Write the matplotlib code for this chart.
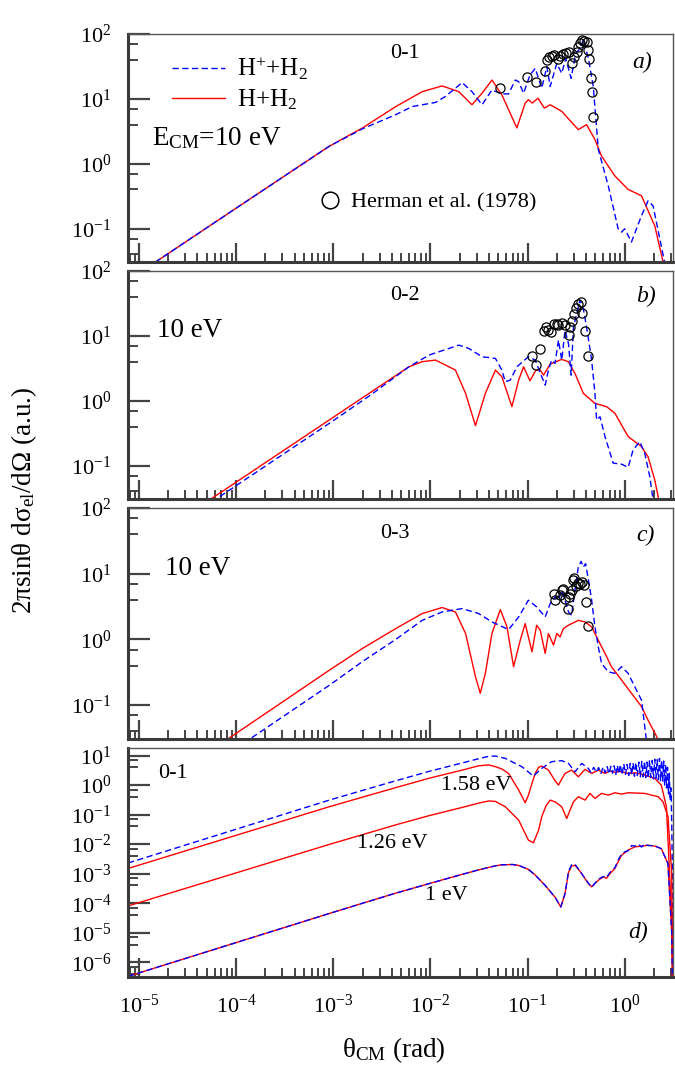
import matplotlib
matplotlib.use("Agg")
import matplotlib.pyplot as plt
from matplotlib.ticker import LogLocator, LogFormatterMathtext, NullFormatter
from matplotlib.lines import Line2D

plt.rcParams['font.family'] = ['Liberation Serif', 'DejaVu Serif']
plt.rcParams['mathtext.fontset'] = 'custom'
plt.rcParams['mathtext.rm'] = 'Liberation Serif'
plt.rcParams['mathtext.it'] = 'Liberation Serif:italic'
plt.rcParams['mathtext.bf'] = 'Liberation Serif:bold'
plt.rcParams['axes.unicode_minus'] = False

# ---------------- data ----------------
# panel a (0-1, 10 eV)
th_a_red = [1e-5, 1e-4, 9.1e-4, 2.0e-3, 4.4e-3, 8.24e-3, 0.0132, 0.0196, 0.0268, 0.034, 0.043, 0.0544,
            0.0776, 0.0946, 0.102, 0.112, 0.128, 0.149, 0.171, 0.225, 0.333, 0.405, 0.494, 0.578, 0.793,
            1.086, 1.49, 2.04, 2.48, 2.9]
sg_a_red = [0.0206, 0.206, 1.86, 3.56, 7.6, 12.9, 15.8, 12.9, 8.1, 12.2, 19.5, 11.5,
            3.56, 8.6, 9.7, 8.6, 10.2, 7.2, 8.1, 6.4, 3.35, 4.0, 2.36, 1.31, 0.646,
            0.40, 0.32, 0.11, 0.031, 0.005]
th_a_blue = [1e-5, 1e-4, 9.1e-4, 2.0e-3, 4.4e-3, 6.5e-3, 0.0113, 0.0143, 0.0212, 0.0268, 0.034, 0.043,
             0.0544, 0.0638, 0.0748, 0.081, 0.091, 0.106, 0.120, 0.140, 0.158, 0.171, 0.200, 0.225, 0.247,
             0.281, 0.313, 0.347, 0.375, 0.423, 0.475, 0.535, 0.678, 0.857, 0.929, 1.0, 1.175, 1.49,
             1.74, 1.96, 2.30, 2.58, 2.9]
sg_a_blue = [0.0206, 0.206, 1.86, 3.45, 5.7, 7.6, 8.8, 10.9, 17.8, 12.9, 8.1, 13.7,
             11.9, 11.9, 19.5, 18.4, 12.2, 23.3, 29.5, 14.6, 31.3, 15.5, 35.1, 24.7, 42,
             20.7, 50, 59.7, 82, 42, 15.5, 1.66, 0.454, 0.099, 0.088, 0.099, 0.062, 0.158,
             0.267, 0.224, 0.069, 0.030, 0.005]
th_a_exp = [0.0516, 0.0993, 0.1216, 0.153, 0.160, 0.168, 0.177, 0.189, 0.208, 0.216, 0.234, 0.249, 0.264,
            0.284, 0.303, 0.324, 0.333, 0.344, 0.361, 0.385, 0.405, 0.416, 0.430, 0.450, 0.457, 0.469]
sg_a_exp = [14.6, 22, 18.2, 27.1, 39.5, 43.5, 46, 47.7, 40.5, 45.5, 48.3, 51, 51.9,
            35.2, 43.5, 51.9, 63.2, 73.8, 80, 78.2, 74.6, 56.2, 40.5, 20.7, 12.9, 5.2]

# panel b (0-2, 10 eV)
th_b_red = [1e-5, 1e-4, 9.1e-4, 2.34e-3, 6.0e-3, 8.24e-3, 0.0113, 0.0181, 0.0230, 0.0291, 0.0368, 0.0467,
            0.0544, 0.069, 0.081, 0.091, 0.106, 0.122, 0.135, 0.146, 0.171, 0.225, 0.264, 0.308, 0.375,
            0.494, 0.652, 0.793, 1.086, 1.49, 1.74, 2.04, 2.24, 2.5]
sg_b_red = [0.00555, 0.0555, 0.505, 1.30, 3.33, 4.0, 4.23, 2.97, 1.30, 0.412, 1.30, 2.97,
            2.34, 0.81, 2.08, 3.33, 2.03, 2.97, 2.97, 2.48, 3.67, 4.34, 3.98, 2.63, 1.30,
            0.91, 0.81, 0.64, 0.28, 0.196, 0.137, 0.060, 0.030, 0.008]
th_b_blue = [1e-5, 1e-4, 9.1e-4, 2.34e-3, 6.0e-3, 9.66e-3, 0.0196, 0.0248, 0.034, 0.0467, 0.0544, 0.059,
             0.0664, 0.0776, 0.102, 0.120, 0.140, 0.152, 0.164, 0.177, 0.192, 0.208, 0.225, 0.243, 0.264,
             0.281, 0.297, 0.321, 0.347, 0.375, 0.405, 0.457, 0.494, 0.514, 0.557, 0.627, 0.762, 0.929,
             1.086, 1.22, 1.43, 1.61, 1.81, 1.96, 2.2]
sg_b_blue = [0.0049, 0.049, 0.448, 1.18, 3.33, 5.05, 7.2, 6.4, 4.76, 4.49, 2.97, 1.96,
             2.08, 3.33, 4.76, 4.23, 2.34, 1.74, 2.97, 4.23, 3.76, 8.6, 4.23, 12.2, 7.6,
             2.48, 13.7, 22.1, 35.4, 26.4, 13.7, 4.23, 1.30, 0.505, 0.567, 0.28, 0.109, 0.105,
             0.094, 0.174, 0.234, 0.155, 0.068, 0.030, 0.008]
th_b_exp = [0.111, 0.122, 0.135, 0.146, 0.154, 0.164, 0.175, 0.189, 0.200, 0.208, 0.225, 0.243, 0.264,
            0.274, 0.284, 0.303, 0.313, 0.328, 0.356, 0.366, 0.391, 0.416]
sg_b_exp = [4.87, 3.54, 6.2, 11.8, 13.7, 12.5, 11.5, 15.0, 15.5, 14.6, 15.9, 14.6, 10.3,
            13.7, 17.0, 22.1, 27.3, 30.8, 33.4, 22.6, 11.9, 4.87]

# panel c (0-3, 10 eV)
th_c_red = [1e-5, 1e-4, 9.1e-4, 2.0e-3, 4.4e-3, 8.24e-3, 0.0132, 0.0181, 0.0230, 0.0291, 0.0326, 0.0368,
            0.043, 0.0525, 0.0614, 0.0718, 0.0841, 0.0946, 0.111, 0.124, 0.135, 0.152, 0.164, 0.185,
            0.200, 0.216, 0.234, 0.264, 0.333, 0.391, 0.457, 0.535, 0.627, 0.731, 0.929, 1.175, 1.49,
            1.74, 2.21, 2.5]
sg_c_red = [0.00371, 0.0371, 0.339, 0.728, 1.46, 2.47, 3.05, 2.61, 1.23, 0.27, 0.151, 0.304,
            1.23, 2.84, 1.55, 0.383, 0.97, 1.74, 0.647, 1.64, 1.38, 0.611, 1.23, 0.817,
            1.23, 1.09, 1.46, 1.64, 1.95, 1.84, 1.55, 0.97, 0.611, 0.383, 0.24, 0.151, 0.095,
            0.059, 0.030, 0.008]
th_c_blue = [1e-5, 1e-4, 9.1e-4, 2.0e-3, 4.4e-3, 8.24e-3, 0.0132, 0.0212, 0.0314, 0.043, 0.0638, 0.081,
             0.102, 0.124, 0.152, 0.171, 0.192, 0.208, 0.225, 0.243, 0.264, 0.284, 0.308, 0.333, 0.356,
             0.375, 0.396, 0.430, 0.457, 0.494, 0.535, 0.578, 0.678, 0.793, 0.929, 1.086, 1.27, 1.49,
             1.67, 1.9]
sg_c_blue = [0.0022, 0.022, 0.200, 0.46, 1.0, 1.95, 2.61, 2.94, 2.47, 1.84, 1.41, 2.19,
             3.94, 3.12, 2.19, 3.51, 4.42, 3.94, 5.58, 3.94, 2.61, 2.33, 5.58, 12.6, 15.4,
             12.6, 14.2, 7.05, 3.94, 1.55, 0.77, 0.43, 0.32, 0.304, 0.383, 0.304, 0.19, 0.119,
             0.030, 0.008]
th_c_exp = [0.185, 0.192, 0.216, 0.225, 0.234, 0.243, 0.259, 0.264, 0.274, 0.284, 0.297, 0.303, 0.313,
            0.328, 0.347, 0.361, 0.381, 0.396, 0.416]
sg_c_exp = [4.85, 4.03, 4.69, 5.58, 5.92, 4.18, 2.94, 4.42, 4.98, 5.58, 7.9, 8.7, 6.4,
            7.2, 7.05, 7.5, 6.65, 3.71, 1.60]

# panel d (0-1, low energies)
th_d_red158 = [7.7e-6, 9.1e-4, 2e-3, 4.4e-3, 9.66e-3, 0.0212, 0.0314, 0.0398, 0.0467, 0.0544, 0.0638,
               0.081, 0.0946, 0.102, 0.111, 0.120, 0.130, 0.140, 0.164, 0.192, 0.208, 0.225, 0.243,
               0.284, 0.333, 0.391, 0.457, 0.535, 0.627, 0.705, 0.793, 0.9, 1.086, 1.3, 1.61, 2.04,
               2.38, 2.69, 2.90, 3.1, 3.14]
sg_d_red158 = [1.5e-3, 0.185, 0.39, 0.82, 1.7, 3.2, 4.5, 4.8, 4.2, 3.5, 2.48,
               0.68, 0.252, 0.45, 1.14, 2.5, 4.0, 4.4, 3.22, 1.4, 1.0, 1.6, 2.48,
               3.22, 1.91, 3.40, 2.48, 3.22, 2.48, 3.0, 2.7, 2.9, 2.48, 2.6, 2.18, 1.68,
               1.0, 0.185, 1.0e-3, 1e-5, 1e-8]
th_d_blue158 = [7.7e-6, 9.1e-4, 2e-3, 4.4e-3, 9.66e-3, 0.0212, 0.0314, 0.0398, 0.0467, 0.059, 0.0875,
                0.115, 0.140, 0.177, 0.225, 0.264, 0.308, 0.361, 0.423,
                0.45, 0.48, 0.51, 0.54, 0.57, 0.60, 0.63, 0.66, 0.69, 0.72, 0.75, 0.78, 0.81, 0.84,
                0.87, 0.90, 0.94, 0.98, 1.02, 1.06, 1.10, 1.14, 1.18, 1.22, 1.26, 1.30, 1.35, 1.40,
                1.45, 1.50, 1.55, 1.60, 1.65, 1.70, 1.75, 1.80, 1.86, 1.92, 1.98, 2.04, 2.10, 2.16,
                2.22, 2.28, 2.34, 2.40, 2.46, 2.52, 2.58, 2.64, 2.70, 2.76, 2.82, 2.88, 2.94, 3.00,
                3.05, 3.10, 3.14]
sg_d_blue158 = [2.3e-3, 0.31, 0.66, 1.4, 2.9, 5.6, 7.8, 9.4, 9.6, 8.0, 4.18,
                2.02, 3.67, 6.2, 6.7, 5.4, 2.8, 5.4, 3.67,
                2.6, 4.0, 2.7, 3.9, 2.5, 4.1, 2.6, 4.2, 2.4, 4.3, 2.5, 4.5, 2.3, 4.6,
                2.4, 4.9, 2.2, 5.2, 2.3, 5.0, 2.1, 5.4, 2.2, 5.6, 2.0, 5.8, 2.1, 6.0,
                1.9, 6.3, 1.9, 6.5, 1.8, 6.0, 1.7, 7.0, 1.8, 6.8, 1.6, 7.5, 1.7, 7.2,
                1.5, 8.0, 1.4, 7.0, 1.3, 6.5, 1.0, 5.0, 0.8, 4.0, 0.5, 2.5, 0.3, 0.8,
                0.05, 1e-3, 1e-8]
th_d_red126 = [7.7e-6, 9.1e-4, 2e-3, 4.4e-3, 9.66e-3, 0.0212, 0.0314, 0.0398, 0.0467, 0.059, 0.081,
               0.102, 0.115, 0.130, 0.140, 0.155, 0.171, 0.192, 0.225, 0.253, 0.297, 0.333, 0.391,
               0.44, 0.494, 0.578, 0.678, 0.793, 0.929, 1.086, 1.61, 2.21, 2.48, 2.79, 3.05, 3.14]
sg_d_red126 = [8.1e-5, 0.0098, 0.021, 0.045, 0.092, 0.175, 0.245, 0.29, 0.28, 0.185, 0.065,
               0.0137, 0.0111, 0.03, 0.085, 0.2, 0.31, 0.27, 0.185, 0.074, 0.272, 0.403, 0.31,
               0.522, 0.353, 0.522, 0.458, 0.55, 0.496, 0.55, 0.522, 0.403, 0.272, 0.085, 1e-3, 1e-8]
th_d_red100 = [7.7e-6, 9.1e-4, 2e-3, 4.4e-3, 9.66e-3, 0.0212, 0.0314, 0.0467, 0.0544, 0.07, 0.081,
               0.102, 0.120, 0.152, 0.192, 0.220, 0.243, 0.264, 0.284, 0.308, 0.361, 0.423, 0.457,
               0.535, 0.601, 0.65, 0.705, 0.793, 0.86, 0.929, 1.086, 1.27, 1.49, 1.74, 2.04, 2.38,
               2.79, 3.05, 3.14]
sg_d_red100 = [3.35e-7, 4.5e-5, 1.0e-4, 2.2e-4, 4.6e-4, 9.5e-4, 1.35e-3, 1.85e-3, 2.0e-3, 2.05e-3, 1.9e-3,
               1.4e-3, 9e-4, 4e-4, 1.6e-4, 7.5e-5, 2.1e-4, 1.1e-3, 1.8e-3, 1.94e-3, 1.01e-3, 4.6e-4, 3.6e-4,
               6.0e-4, 7.8e-4, 7e-4, 1.0e-3, 1.5e-3, 2.6e-3, 4.2e-3, 6.3e-3, 8.1e-3, 8.6e-3, 9.2e-3,
               8.6e-3, 7.1e-3, 2.2e-3, 1e-5, 1e-8]
th_d_blue100 = [7.7e-6, 9.1e-4, 2e-3, 4.4e-3, 9.66e-3, 0.0212, 0.0314, 0.0467, 0.0544, 0.07, 0.081,
                0.102, 0.120, 0.152, 0.192, 0.220, 0.243, 0.264, 0.284, 0.308, 0.361, 0.423, 0.457,
                0.535, 0.601, 0.65, 0.705, 0.793, 0.86, 0.929, 1.0, 1.086, 1.18, 1.27, 1.38, 1.49, 1.6,
                1.74, 2.04, 2.38, 2.79, 3.05, 3.14]
sg_d_blue100 = [3.35e-7, 4.5e-5, 1.0e-4, 2.2e-4, 4.6e-4, 9.5e-4, 1.35e-3, 1.85e-3, 2.0e-3, 2.05e-3, 1.9e-3,
                1.4e-3, 9e-4, 4e-4, 1.6e-4, 7.5e-5, 2.1e-4, 1.2e-3, 2.0e-3, 2.1e-3, 1.0e-3, 4.8e-4, 3.5e-4,
                6.5e-4, 8.0e-4, 7.5e-4, 1.1e-3, 1.6e-3, 3.0e-3, 4.6e-3, 5.5e-3, 6.0e-3, 9.0e-3, 8.5e-3,
                1.0e-2, 8.0e-3, 1.0e-2, 9.0e-3, 8.8e-3, 7.0e-3, 2.2e-3, 1e-5, 1e-8]

XMIN, XMAX = 7.7e-6, 3.14159

# ---------------- figure ----------------
fig = plt.figure(figsize=(6.75, 10.75), dpi=100)
L, W = 0.1896, 0.8074
rects = [(L, 0.7563, W, 0.2121), (L, 0.5358, W, 0.2121), (L, 0.3126, W, 0.2149), (L, 0.0912, W, 0.2130)]
axes = [fig.add_axes(r) for r in rects]

RED = dict(color='#ff0000', lw=1.0, solid_joinstyle='round')
BLUE = dict(color='#0000ff', lw=1.0, ls=(0, (4.5, 2.5)))
EXP = dict(ls='none', marker='o', ms=6.6, mfc='none', mec='black', mew=0.9)

def style(ax, ylim, labels_x):
    ax.set_xscale('log')
    ax.set_yscale('log')
    ax.set_xlim(XMIN, XMAX)
    ax.set_ylim(*ylim)
    ax.xaxis.set_major_locator(LogLocator(base=10, numticks=20))
    ax.xaxis.set_minor_locator(LogLocator(base=10, subs=(2, 3, 4, 5, 6, 7, 8, 9), numticks=20))
    ax.yaxis.set_major_locator(LogLocator(base=10, numticks=20))
    ax.yaxis.set_minor_locator(LogLocator(base=10, subs=(4.0, 7.0), numticks=20))
    ax.yaxis.set_major_formatter(LogFormatterMathtext())
    ax.yaxis.set_minor_formatter(NullFormatter())
    if labels_x:
        ax.xaxis.set_major_formatter(LogFormatterMathtext())
    else:
        ax.xaxis.set_major_formatter(NullFormatter())
    ax.xaxis.set_minor_formatter(NullFormatter())
    ax.tick_params(which='both', direction='in', top=False, right=False, colors='#444444')
    ax.tick_params(axis='x', which='major', length=14, width=1.6, pad=13, labelsize=16, labelcolor='black')
    ax.tick_params(axis='x', which='minor', length=6.5, width=1.4)
    ax.tick_params(axis='y', which='major', length=16, width=1.6, pad=12, labelsize=16, labelcolor='black')
    ax.tick_params(axis='y', which='minor', length=7, width=1.4)
    for s in ('left', 'bottom'):
        ax.spines[s].set_linewidth(2.2)
        ax.spines[s].set_color('#3a3a3a')
    for s in ('top', 'right'):
        ax.spines[s].set_linewidth(1.0)
        ax.spines[s].set_color('#555555')

# panel a
ax = axes[0]
ax.plot(th_a_red, sg_a_red, **RED)
ax.plot(th_a_blue, sg_a_blue, **BLUE)
ax.plot(th_a_exp, sg_a_exp, **EXP)
style(ax, (0.0305, 100), False)
h1 = Line2D([], [], **BLUE)
h2 = Line2D([], [], **RED)
leg = ax.legend([h1, h2], [r'H$^{+}$+H$_2$', r'H+H$_2$'], loc='center left', bbox_to_anchor=(0.08, 0.78),
                frameon=False, fontsize=18, handlelength=2.15, handletextpad=0.45, labelspacing=0.22,
                borderpad=0, borderaxespad=0)
ax.add_artist(leg)
h3 = Line2D([], [], ls='none', marker='o', ms=12, mfc='none', mec='black', mew=1.1)
ax.legend([h3], ['Herman et al. (1978)'], loc='center left', bbox_to_anchor=(0.35, 0.26),
          frameon=False, fontsize=16, handlelength=1.0, handletextpad=0.45, borderpad=0, borderaxespad=0)
ax.text(0.044, 0.513, r'E$_{\mathregular{CM}}$=10 eV', transform=ax.transAxes, fontsize=19.5, va='baseline')
ax.text(0.508, 0.895, '0-1', transform=ax.transAxes, fontsize=16, ha='center', va='baseline')
ax.text(0.943, 0.851, 'a)', transform=ax.transAxes, fontsize=17, ha='center', va='baseline', style='italic')

# panel b
ax = axes[1]
ax.plot(th_b_red, sg_b_red, **RED)
ax.plot(th_b_blue, sg_b_blue, **BLUE)
ax.plot(th_b_exp, sg_b_exp, **EXP)
style(ax, (0.0305, 100), False)
ax.text(0.053, 0.711, '10 eV', transform=ax.transAxes, fontsize=19.5, va='baseline')
ax.text(0.508, 0.873, '0-2', transform=ax.transAxes, fontsize=16, ha='center', va='baseline')
ax.text(0.950, 0.864, 'b)', transform=ax.transAxes, fontsize=17, ha='center', va='baseline', style='italic')

# panel c
ax = axes[2]
ax.plot(th_c_red, sg_c_red, **RED)
ax.plot(th_c_blue, sg_c_blue, **BLUE)
ax.plot(th_c_exp, sg_c_exp, **EXP)
style(ax, (0.0305, 100), False)
ax.text(0.068, 0.710, '10 eV', transform=ax.transAxes, fontsize=19.5, va='baseline')
ax.text(0.490, 0.870, '0-3', transform=ax.transAxes, fontsize=16, ha='center', va='baseline')
ax.text(0.949, 0.857, 'c)', transform=ax.transAxes, fontsize=17, ha='center', va='baseline', style='italic')

# panel d
ax = axes[3]
ax.plot(th_d_red158, sg_d_red158, **RED)
ax.plot(th_d_blue158, sg_d_blue158, **BLUE)
ax.plot(th_d_red126, sg_d_red126, **RED)
ax.plot(th_d_red100, sg_d_red100, **RED)
ax.plot(th_d_blue100, sg_d_blue100, **BLUE)
style(ax, (3.2e-7, 18), True)
ax.text(0.083, 0.869, '0-1', transform=ax.transAxes, fontsize=16, ha='center', va='baseline')
ax.text(0.640, 0.817, '1.58 eV', transform=ax.transAxes, fontsize=16, ha='center', va='baseline')
ax.text(0.485, 0.563, '1.26 eV', transform=ax.transAxes, fontsize=16, ha='center', va='baseline')
ax.text(0.585, 0.336, '1 eV', transform=ax.transAxes, fontsize=16, ha='center', va='baseline')
ax.text(0.936, 0.170, 'd)', transform=ax.transAxes, fontsize=17, ha='center', va='baseline', style='italic')

fig.text(0.036, 0.535, r'2πsinθ dσ$_{\mathregular{el}}$/dΩ (a.u.)', rotation=90, ha='center', va='center',
         fontsize=19.5)
fig.text(0.584, 0.0167, r'θ$_{\mathregular{CM}}$ (rad)', ha='center', va='baseline', fontsize=19.5)

fig.savefig('out.png', dpi=100)
